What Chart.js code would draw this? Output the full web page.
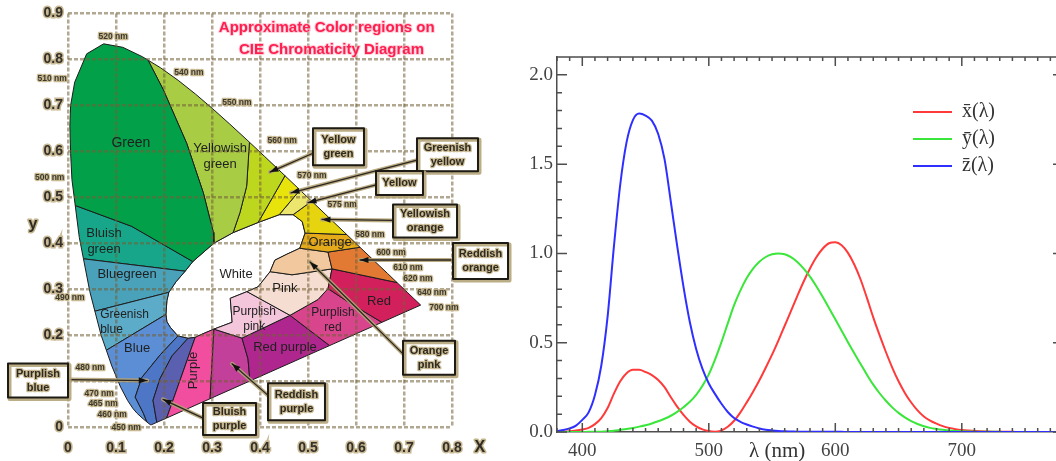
<!DOCTYPE html>
<html>
<head>
<meta charset="utf-8">
<title>CIE colour regions and colour matching functions</title>
<script src="https://cdn.jsdelivr.net/npm/chart.js@4.4.1/dist/chart.umd.min.js"></script>
<style>
  html, body { margin: 0; padding: 0; background: #fff; overflow: hidden; }
  #wrap { position: relative; width: 1056px; height: 461px; overflow: hidden; }
  #cieChart { position: absolute; left: 0; top: 0; }
  #cmfChart { position: absolute; left: 500px; top: 0; }
</style>
</head>
<body>
<div id="wrap">
  <canvas id="cieChart" width="512" height="461"></canvas>
  <canvas id="cmfChart" width="570" height="461"></canvas>
</div>
<script>
// ---------- left: approximate colour regions, CIE x / y ----------
const xTicks = [0, 0.1, 0.2, 0.3, 0.4, 0.5, 0.6, 0.7, 0.8];
const yTicks = [0, 0.1, 0.2, 0.3, 0.4, 0.5, 0.6, 0.7, 0.8, 0.9];

// region outlines (chromaticity x, y)
const green = [[0.0151,0.482],[0.0082,0.5384],[0.0055,0.595],[0.0039,0.6548],[0.0055,0.70],[0.0139,0.7502],[0.0389,0.812],[0.0743,0.8338],[0.1142,0.8262],[0.1547,0.8059],[0.1667,0.7983],[0.1985,0.734],[0.2473,0.6172],[0.2819,0.5097],[0.3028,0.4237],[0.304,0.400],[0.260,0.360],[0.1327,0.4366],[0.0151,0.482]];
const yellowishGreen = [[0.1667,0.7983],[0.1929,0.7816],[0.2296,0.7543],[0.2658,0.7243],[0.3016,0.6923],[0.3373,0.6589],[0.3731,0.6245],[0.378,0.6197],[0.3722,0.524],[0.3583,0.4667],[0.344,0.423],[0.304,0.400],[0.3028,0.4237],[0.2819,0.5097],[0.2473,0.6172],[0.1985,0.734],[0.1667,0.7983]];
const yellowGreen = [[0.378,0.6197],[0.4087,0.5896],[0.4441,0.5547],[0.4521,0.5467],[0.396,0.445],[0.344,0.423],[0.3583,0.4667],[0.3722,0.524],[0.378,0.6197]];
const greenishYellow = [[0.4521,0.5467],[0.4788,0.5202],[0.4833,0.5157],[0.440,0.462],[0.396,0.445],[0.4521,0.5467]];
const yellow = [[0.4833,0.5157],[0.5077,0.4914],[0.469,0.462],[0.440,0.462],[0.4833,0.5157]];
const yellowishOrange = [[0.5077,0.4914],[0.5125,0.4866],[0.5448,0.4544],[0.5752,0.4242],[0.5806,0.4188],[0.494,0.422],[0.488,0.447],[0.469,0.462],[0.5077,0.4914]];
const orange = [[0.5806,0.4188],[0.6029,0.3965],[0.6083,0.3911],[0.5417,0.3806],[0.483,0.389],[0.494,0.422],[0.5806,0.4188]];
const reddishOrange = [[0.6083,0.3911],[0.627,0.3725],[0.6482,0.3514],[0.6658,0.334],[0.6854,0.3144],[0.55,0.3441],[0.5417,0.3806],[0.6083,0.3911]];
const orangePink = [[0.483,0.389],[0.5417,0.3806],[0.55,0.3441],[0.4667,0.3312],[0.421,0.338],[0.431,0.363],[0.456,0.376],[0.483,0.389]];
const red = [[0.55,0.3441],[0.6854,0.3144],[0.6915,0.3083],[0.7079,0.292],[0.719,0.2809],[0.726,0.274],[0.7347,0.2653],[0.654,0.2278],[0.5917,0.2667],[0.5417,0.3011],[0.55,0.3441]];
const pink = [[0.421,0.338],[0.4667,0.3312],[0.55,0.3441],[0.5417,0.3011],[0.5208,0.2774],[0.4625,0.243],[0.3729,0.2946],[0.396,0.305],[0.421,0.338]];
const purplishPink = [[0.3729,0.2946],[0.4625,0.243],[0.3625,0.1935],[0.304,0.213],[0.342,0.228],[0.338,0.280],[0.3729,0.2946]];
const purplishRed = [[0.4625,0.243],[0.5208,0.2774],[0.5417,0.3011],[0.5917,0.2667],[0.654,0.2278],[0.545,0.1772],[0.4625,0.243]];
const redPurple = [[0.3625,0.1935],[0.4625,0.243],[0.545,0.1772],[0.379,0.1001],[0.375,0.1484],[0.3625,0.1935]];
const reddishPurple = [[0.304,0.213],[0.3625,0.1935],[0.375,0.1484],[0.379,0.1001],[0.296,0.0616],[0.304,0.213]];
const purple = [[0.265,0.195],[0.275,0.200],[0.304,0.213],[0.296,0.0616],[0.2056,0.0196],[0.265,0.195]];
const bluishPurple = [[0.250,0.193],[0.265,0.195],[0.2056,0.0196],[0.185,0.0101],[0.1771,0.0581],[0.1917,0.1054],[0.2167,0.1548],[0.250,0.193]];
const purplishBlue = [[0.229,0.198],[0.250,0.193],[0.2167,0.1548],[0.1917,0.1054],[0.1771,0.0581],[0.185,0.0101],[0.1741,0.005],[0.1714,0.0051],[0.1644,0.0109],[0.157,0.030],[0.140,0.065],[0.154,0.108],[0.193,0.158],[0.229,0.198]];
const blue = [[0.213,0.217],[0.229,0.198],[0.193,0.158],[0.154,0.108],[0.140,0.065],[0.157,0.030],[0.1644,0.0109],[0.1566,0.0177],[0.144,0.0297],[0.1355,0.0399],[0.1241,0.0578],[0.1096,0.0868],[0.0913,0.1327],[0.0799,0.167],[0.204,0.245],[0.206,0.229],[0.213,0.217]];
const greenishBlue = [[0.0799,0.167],[0.0687,0.2007],[0.056,0.252],[0.210,0.293],[0.206,0.275],[0.204,0.245],[0.0799,0.167]];
const blueGreen = [[0.056,0.252],[0.0454,0.295],[0.0322,0.366],[0.244,0.339],[0.225,0.316],[0.210,0.293],[0.056,0.252]];
const bluishGreen = [[0.0322,0.366],[0.0235,0.4127],[0.0151,0.482],[0.1327,0.4366],[0.260,0.360],[0.244,0.339],[0.0322,0.366]];
const white = [[0.204,0.245],[0.206,0.275],[0.210,0.293],[0.225,0.316],[0.244,0.339],[0.260,0.360],[0.304,0.400],[0.344,0.423],[0.396,0.445],[0.440,0.462],[0.469,0.462],[0.488,0.447],[0.494,0.422],[0.483,0.389],[0.456,0.376],[0.431,0.363],[0.421,0.338],[0.396,0.305],[0.3729,0.2946],[0.338,0.280],[0.342,0.228],[0.304,0.213],[0.275,0.200],[0.265,0.195],[0.250,0.193],[0.229,0.198],[0.213,0.217],[0.206,0.229],[0.204,0.245]];

const regionShapes = {
  'Green': green, 'Yellowish green': yellowishGreen, 'Yellow green': yellowGreen,
  'Greenish yellow': greenishYellow, 'Yellow': yellow, 'Yellowish orange': yellowishOrange,
  'Orange': orange, 'Reddish orange': reddishOrange, 'Orange pink': orangePink, 'Red': red,
  'Pink': pink, 'Purplish pink': purplishPink, 'Purplish red': purplishRed, 'Red purple': redPurple,
  'Reddish purple': reddishPurple, 'Purple': purple, 'Bluish purple': bluishPurple,
  'Purplish blue': purplishBlue, 'Blue': blue, 'Greenish blue': greenishBlue,
  'Bluegreen': blueGreen, 'Bluish green': bluishGreen, 'White': white
};
const regionColors = {
  'Green': '#03a04a', 'Yellowish green': '#a8cd45', 'Yellow green': '#bdd61e',
  'Greenish yellow': '#e8e30a', 'Yellow': '#ece66e', 'Yellowish orange': '#e6d40e',
  'Orange': '#e5aa1a', 'Reddish orange': '#e27a34', 'Orange pink': '#f2c99e', 'Red': '#d2205c',
  'Pink': '#f5ddd2', 'Purplish pink': '#f3c6dc', 'Purplish red': '#d9458d', 'Red purple': '#b0268f',
  'Reddish purple': '#c23f9a', 'Purple': '#f24e9f', 'Bluish purple': '#5b5fb0',
  'Purplish blue': '#4e76c6', 'Blue': '#5b8ed4', 'Greenish blue': '#5cacc9',
  'Bluegreen': '#49a1ba', 'Bluish green': '#17a689', 'White': '#ffffff'
};

const regionNames = [
  {text: ['Green'], at: [0.131, 0.617], size: 14},
  {text: ['Yellowish', 'green'], at: [0.317, 0.588]},
  {text: ['Bluish', 'green'], at: [0.075, 0.403]},
  {text: ['Bluegreen'], at: [0.123, 0.333]},
  {text: ['Greenish', 'blue'], at: [0.067, 0.228], align: 'left', size: 12},
  {text: ['Blue'], at: [0.144, 0.170]},
  {text: ['Purple'], at: [0.262, 0.123], rotate: true},
  {text: ['White'], at: [0.350, 0.333]},
  {text: ['Pink'], at: [0.452, 0.301]},
  {text: ['Purplish', 'pink'], at: [0.388, 0.234], size: 12},
  {text: ['Purplish', 'red'], at: [0.552, 0.232], size: 12},
  {text: ['Red purple'], at: [0.452, 0.174]},
  {text: ['Red'], at: [0.648, 0.273]},
  {text: ['Orange'], at: [0.546, 0.402]}
];

const nmLabels = [
  ['520 nm', 0.094, 0.850], ['510 nm', -0.033, 0.757], ['500 nm', -0.038, 0.542],
  ['540 nm', 0.252, 0.772], ['550 nm', 0.352, 0.705], ['560 nm', 0.446, 0.624],
  ['570 nm', 0.508, 0.546], ['575 nm', 0.571, 0.484], ['580 nm', 0.629, 0.419],
  ['600 nm', 0.673, 0.379], ['610 nm', 0.708, 0.346], ['620 nm', 0.729, 0.323],
  ['640 nm', 0.758, 0.293], ['700 nm', 0.783, 0.260],
  ['490 nm', 0.004, 0.282], ['480 nm', 0.046, 0.129], ['470 nm', 0.065, 0.073],
  ['465 nm', 0.073, 0.050], ['460 nm', 0.092, 0.026], ['450 nm', 0.121, -0.002]
];

const callouts = [
  {text: ['Yellow', 'green'], box: [0.5635, 0.6097, 51, 37], from: [0.5104, 0.5957], to: [0.4208, 0.5548]},
  {text: ['Greenish', 'yellow'], box: [0.7906, 0.5925, 61, 33], from: [0.7271, 0.5806], to: [0.4646, 0.5097]},
  {text: ['Yellow'], box: [0.6906, 0.5312, 47, 24], from: [0.6417, 0.5269], to: [0.500, 0.4882]},
  {text: ['Yellowish', 'orange'], box: [0.7438, 0.4484, 64, 33], from: [0.6771, 0.4495], to: [0.5292, 0.4516]},
  {text: ['Reddish', 'orange'], box: [0.8594, 0.3613, 55, 36], from: [0.7979, 0.3634], to: [0.6083, 0.3634]},
  {text: ['Orange', 'pink'], box: [0.7521, 0.1505, 52, 34], from: [0.6979, 0.1591], to: [0.5042, 0.3591]},
  {text: ['Reddish', 'purple'], box: [0.476, 0.0548, 57, 37], from: [0.4167, 0.0688], to: [0.3417, 0.1376]},
  {text: ['Bluish', 'purple'], box: [0.3365, 0.0172, 53, 32], from: [0.2813, 0.0194], to: [0.1979, 0.0602]},
  {text: ['Purplish', 'blue'], box: [-0.0625, 0.1011, 60, 34], from: [0.000, 0.1032], to: [0.165, 0.1011]}
];

// ---------- right: CIE 1931 colour matching functions ----------
const wavelengths = [380,385,390,395,400,405,410,415,420,425,
  430,435,440,445,450,455,460,465,470,475,
  480,485,490,495,500,505,510,515,520,525,
  530,535,540,545,550,555,560,565,570,575,
  580,585,590,595,600,605,610,615,620,625,
  630,635,640,645,650,655,660,665,670,675,
  680,685,690,695,700,705,710,715,720,725,
  730,735,740,745,750,755,760,765,770,775,780];
const xBar = [0.001,0.002,0.004,0.008,0.014,0.023,0.044,0.078,0.134,0.215,
  0.284,0.329,0.348,0.348,0.336,0.319,0.291,0.251,0.195,0.142,
  0.096,0.058,0.032,0.015,0.005,0.002,0.009,0.029,0.063,0.110,
  0.166,0.226,0.290,0.360,0.433,0.512,0.595,0.678,0.762,0.843,
  0.916,0.979,1.026,1.057,1.062,1.046,1.003,0.938,0.854,0.751,
  0.642,0.542,0.448,0.361,0.284,0.219,0.165,0.121,0.087,0.064,
  0.047,0.033,0.023,0.016,0.011,0.008,0.006,0.004,0.003,0.002,
  0.001,0.001,0.001,0,0,0,0,0,0,0,0];
const yBar = [0,0,0,0,0,0.001,0.001,0.002,0.004,0.007,
  0.012,0.017,0.023,0.030,0.038,0.048,0.060,0.074,0.091,0.113,
  0.139,0.169,0.208,0.259,0.323,0.407,0.503,0.608,0.710,0.793,
  0.862,0.915,0.954,0.980,0.995,1.000,0.995,0.979,0.952,0.915,
  0.870,0.816,0.757,0.695,0.631,0.567,0.503,0.441,0.381,0.321,
  0.265,0.217,0.175,0.138,0.107,0.082,0.061,0.045,0.032,0.023,
  0.017,0.012,0.008,0.006,0.004,0.003,0.002,0.001,0.001,0.001,
  0.001,0,0,0,0,0,0,0,0,0,0];
const zBar = [0.006,0.011,0.020,0.036,0.068,0.110,0.207,0.371,0.646,1.039,
  1.386,1.623,1.747,1.783,1.772,1.744,1.669,1.528,1.288,1.042,
  0.813,0.616,0.465,0.353,0.272,0.212,0.158,0.112,0.078,0.057,
  0.042,0.030,0.020,0.013,0.009,0.006,0.004,0.003,0.002,0.002,
  0.002,0.001,0.001,0.001,0.001,0.001,0,0,0,0,
  0,0,0,0,0,0,0,0,0,0,
  0,0,0,0,0,0,0,0,0,0,
  0,0,0,0,0,0,0,0,0,0,0];
const seriesLabels = ['x\u0304(\u03bb)', 'y\u0304(\u03bb)', 'z\u0304(\u03bb)'];
const cmfXTicks = [400, 500, 600, 700];
const cmfYTicks = [0, 0.5, 1.0, 1.5, 2.0];

const seriesColors = ['#ff3a3a', '#3ae63a', '#2f2fff'];

// ---------- drawing helpers ----------
const SANS = '"Liberation Sans", Arial, sans-serif';
const SERIF = '"Liberation Serif", "Times New Roman", serif';

function haloText(ctx, text, x, y, halo, width) {
  ctx.lineJoin = 'round';
  ctx.strokeStyle = halo;
  ctx.lineWidth = width;
  ctx.strokeText(text, x, y);
  ctx.fillText(text, x, y);
}

function pointer(ctx, x1, y1, x2, y2) {
  ctx.lineCap = 'round';
  ctx.strokeStyle = 'rgba(178,162,118,0.9)';
  ctx.lineWidth = 4;
  ctx.beginPath(); ctx.moveTo(x1, y1); ctx.lineTo(x2, y2); ctx.stroke();
  ctx.strokeStyle = '#2a2620';
  ctx.lineWidth = 1.3;
  ctx.beginPath(); ctx.moveTo(x1, y1); ctx.lineTo(x2, y2); ctx.stroke();
  const a = Math.atan2(y2 - y1, x2 - x1), s = 9;
  ctx.fillStyle = '#111';
  ctx.beginPath();
  ctx.moveTo(x2, y2);
  ctx.lineTo(x2 - s * Math.cos(a - 0.35), y2 - s * Math.sin(a - 0.35));
  ctx.lineTo(x2 - s * Math.cos(a + 0.35), y2 - s * Math.sin(a + 0.35));
  ctx.closePath();
  ctx.fill();
}

const cieDecor = {
  id: 'cieDecor',
  afterDraw(chart) {
    const {ctx, scales: {x, y}} = chart;
    const X = v => x.getPixelForValue(v);
    const Y = v => y.getPixelForValue(v);
    ctx.save();

    // names inside the regions
    ctx.textBaseline = 'middle';
    ctx.fillStyle = '#1f1f1f';
    for (const r of regionNames) {
      const size = r.size || 13;
      ctx.font = size + 'px ' + SANS;
      ctx.textAlign = r.align || 'center';
      const cx = X(r.at[0]), cy = Y(r.at[1]);
      if (r.rotate) {
        ctx.save();
        ctx.translate(cx, cy);
        ctx.rotate(-Math.PI / 2);
        ctx.fillText(r.text[0], 0, 0);
        ctx.restore();
        continue;
      }
      const lh = size + 3;
      r.text.forEach((t, i) => ctx.fillText(t, cx, cy + (i - (r.text.length - 1) / 2) * lh));
    }

    // wavelength marks along the locus
    ctx.font = 'bold 8.5px ' + SANS;
    ctx.textAlign = 'center';
    ctx.fillStyle = '#3b382c';
    for (const [t, vx, vy] of nmLabels) haloText(ctx, t, X(vx), Y(vy), 'rgba(196,180,138,0.9)', 2.5);

    // boxed call-outs with pointers
    for (const c of callouts) {
      pointer(ctx, X(c.from[0]), Y(c.from[1]), X(c.to[0]), Y(c.to[1]));
    }
    for (const c of callouts) {
      const [bx, by, w, h] = c.box;
      const left = X(bx) - w / 2, top = Y(by) - h / 2;
      ctx.fillStyle = '#fff';
      ctx.fillRect(left, top, w, h);
      ctx.strokeStyle = 'rgba(180,164,120,0.9)';
      ctx.lineWidth = 4;
      ctx.strokeRect(left + 1.5, top + 1.5, w, h);
      ctx.strokeStyle = '#1e1b15';
      ctx.lineWidth = 2;
      ctx.strokeRect(left, top, w, h);
      ctx.font = 'bold 11px ' + SANS;
      ctx.fillStyle = '#2e2a20';
      ctx.textAlign = 'center';
      c.text.forEach((t, i) => haloText(ctx, t, X(bx), Y(by) + (i - (c.text.length - 1) / 2) * 14, 'rgba(196,180,138,0.9)', 2.5));
    }

    // title
    ctx.font = 'bold 15px ' + SANS;
    ctx.fillStyle = '#ff1f4f';
    haloText(ctx, 'Approximate Color regions on', X(0.539), Y(0.869), 'rgba(255,170,190,0.55)', 2);
    haloText(ctx, 'CIE Chromaticity Diagram', X(0.549), Y(0.8215), 'rgba(255,170,190,0.55)', 2);

    // axis letters
    ctx.font = 'bold 16px ' + SANS;
    ctx.fillStyle = '#2e2c24';
    haloText(ctx, 'X', X(0.858), Y(-0.045), 'rgba(190,172,128,0.9)', 3);
    haloText(ctx, 'y', X(-0.073), Y(0.441), 'rgba(190,172,128,0.9)', 3);
    ctx.restore();
  }
};

const cmfFrame = {
  id: 'cmfFrame',
  afterDraw(chart) {
    const {ctx, chartArea: a, scales: {x, y}} = chart;
    ctx.save();
    ctx.strokeStyle = '#4e4e4e';
    ctx.lineWidth = 1.5;
    ctx.beginPath();
    ctx.moveTo(a.left, a.top); ctx.lineTo(a.right, a.top); ctx.lineTo(a.right, a.bottom);
    for (let w = 380; w <= 780; w += 10) {
      const p = x.getPixelForValue(w), len = w % 100 === 0 ? 9 : 4;
      ctx.moveTo(p, a.bottom); ctx.lineTo(p, a.bottom - len);
      ctx.moveTo(p, a.top); ctx.lineTo(p, a.top + len);
    }
    for (let i = 0; i <= 21; i++) {
      const p = y.getPixelForValue(i / 10), len = i % 5 === 0 ? 10 : 5;
      ctx.moveTo(a.left, p); ctx.lineTo(a.left + len, p);
      ctx.moveTo(a.right, p); ctx.lineTo(a.right - len, p);
    }
    ctx.stroke();

    // axis title
    ctx.fillStyle = '#333';
    ctx.font = '21px ' + SERIF;
    ctx.textAlign = 'center';
    ctx.textBaseline = 'middle';
    ctx.fillText('\u03bb (nm)', x.getPixelForValue(554), a.bottom + 19);

    // legend
    ctx.font = '20px ' + SERIF;
    ctx.textAlign = 'left';
    seriesLabels.forEach((t, i) => {
      const ly = a.top + 55 + i * 27;
      ctx.strokeStyle = seriesColors[i];
      ctx.lineWidth = 2;
      ctx.beginPath(); ctx.moveTo(a.right - 150, ly); ctx.lineTo(a.right - 111, ly); ctx.stroke();
      ctx.fillStyle = '#333';
      ctx.fillText(t, a.right - 101, ly);
    });
    ctx.restore();
  }
};

// ---------- left chart ----------
const tickFont = {family: SANS, size: 14, weight: 'bold'};
const cieTicks = {
  color: '#34312a', font: tickFont, autoSkip: false, maxRotation: 0,
  textStrokeColor: 'rgba(190,172,128,0.85)', textStrokeWidth: 3,
  callback: v => v === 0 ? '0' : v.toFixed(1)
};
const cieGrid = {color: 'rgba(115,96,55,0.55)', lineWidth: 2.5, drawTicks: false, z: 1};

new Chart(document.getElementById('cieChart'), {
  type: 'scatter',
  data: {
    datasets: Object.keys(regionShapes).map(name => ({
      label: name,
      data: regionShapes[name].map(([px, py]) => ({x: px, y: py})),
      showLine: true,
      fill: 'shape',
      backgroundColor: regionColors[name],
      borderColor: '#1c1c1c',
      borderWidth: 1,
      pointRadius: 0,
      tension: 0
    }))
  },
  options: {
    responsive: false,
    animation: false,
    devicePixelRatio: 1,
    events: [],
    layout: {padding: {top: 8.5, right: 60, left: 0, bottom: 0}},
    plugins: {legend: {display: false}, tooltip: {enabled: false}},
    scales: {
      x: {
        type: 'linear', min: 0, max: 0.8,
        afterBuildTicks: s => { s.ticks = xTicks.map(v => ({value: v})); },
        afterFit: s => { s.height = 34; },
        grid: cieGrid,
        border: {display: false, dash: [4, 2]},
        ticks: Object.assign({padding: 13}, cieTicks)
      },
      y: {
        type: 'linear', min: 0, max: 0.9,
        afterBuildTicks: s => { s.ticks = yTicks.map(v => ({value: v})); },
        afterFit: s => { s.width = 68; },
        grid: cieGrid,
        border: {display: false, dash: [4, 2]},
        ticks: Object.assign({padding: 5}, cieTicks)
      }
    }
  },
  plugins: [cieDecor]
});

// ---------- right chart ----------
const serifTicks = {family: SERIF, size: 19};
new Chart(document.getElementById('cmfChart'), {
  type: 'scatter',
  data: {
    datasets: [xBar, yBar, zBar].map((vals, i) => ({
      label: seriesLabels[i],
      data: wavelengths.map((w, k) => ({x: w, y: vals[k]})),
      showLine: true,
      borderColor: seriesColors[i],
      borderWidth: 2,
      pointRadius: 0,
      cubicInterpolationMode: 'monotone',
      fill: false,
      order: 3 - i
    }))
  },
  options: {
    responsive: false,
    animation: false,
    devicePixelRatio: 1,
    events: [],
    layout: {padding: {top: 57, right: 7, left: 0, bottom: 0}},
    plugins: {legend: {display: false}, tooltip: {enabled: false}},
    scales: {
      x: {
        type: 'linear', min: 380, max: 780,
        afterBuildTicks: s => { s.ticks = cmfXTicks.map(v => ({value: v})); },
        afterFit: s => { s.height = 29; },
        grid: {display: false, drawTicks: false},
        border: {display: true, color: '#4e4e4e', width: 1.5},
        ticks: {color: '#444', font: serifTicks, padding: 8, maxRotation: 0, autoSkip: false}
      },
      y: {
        type: 'linear', min: 0, max: 2.1,
        afterBuildTicks: s => { s.ticks = cmfYTicks.map(v => ({value: v})); },
        afterFit: s => { s.width = 57; },
        grid: {display: false, drawTicks: false},
        border: {display: true, color: '#4e4e4e', width: 1.5},
        ticks: {color: '#444', font: serifTicks, padding: 4, autoSkip: false, callback: v => v.toFixed(1)}
      }
    }
  },
  plugins: [cmfFrame]
});
</script>
</body>
</html>
